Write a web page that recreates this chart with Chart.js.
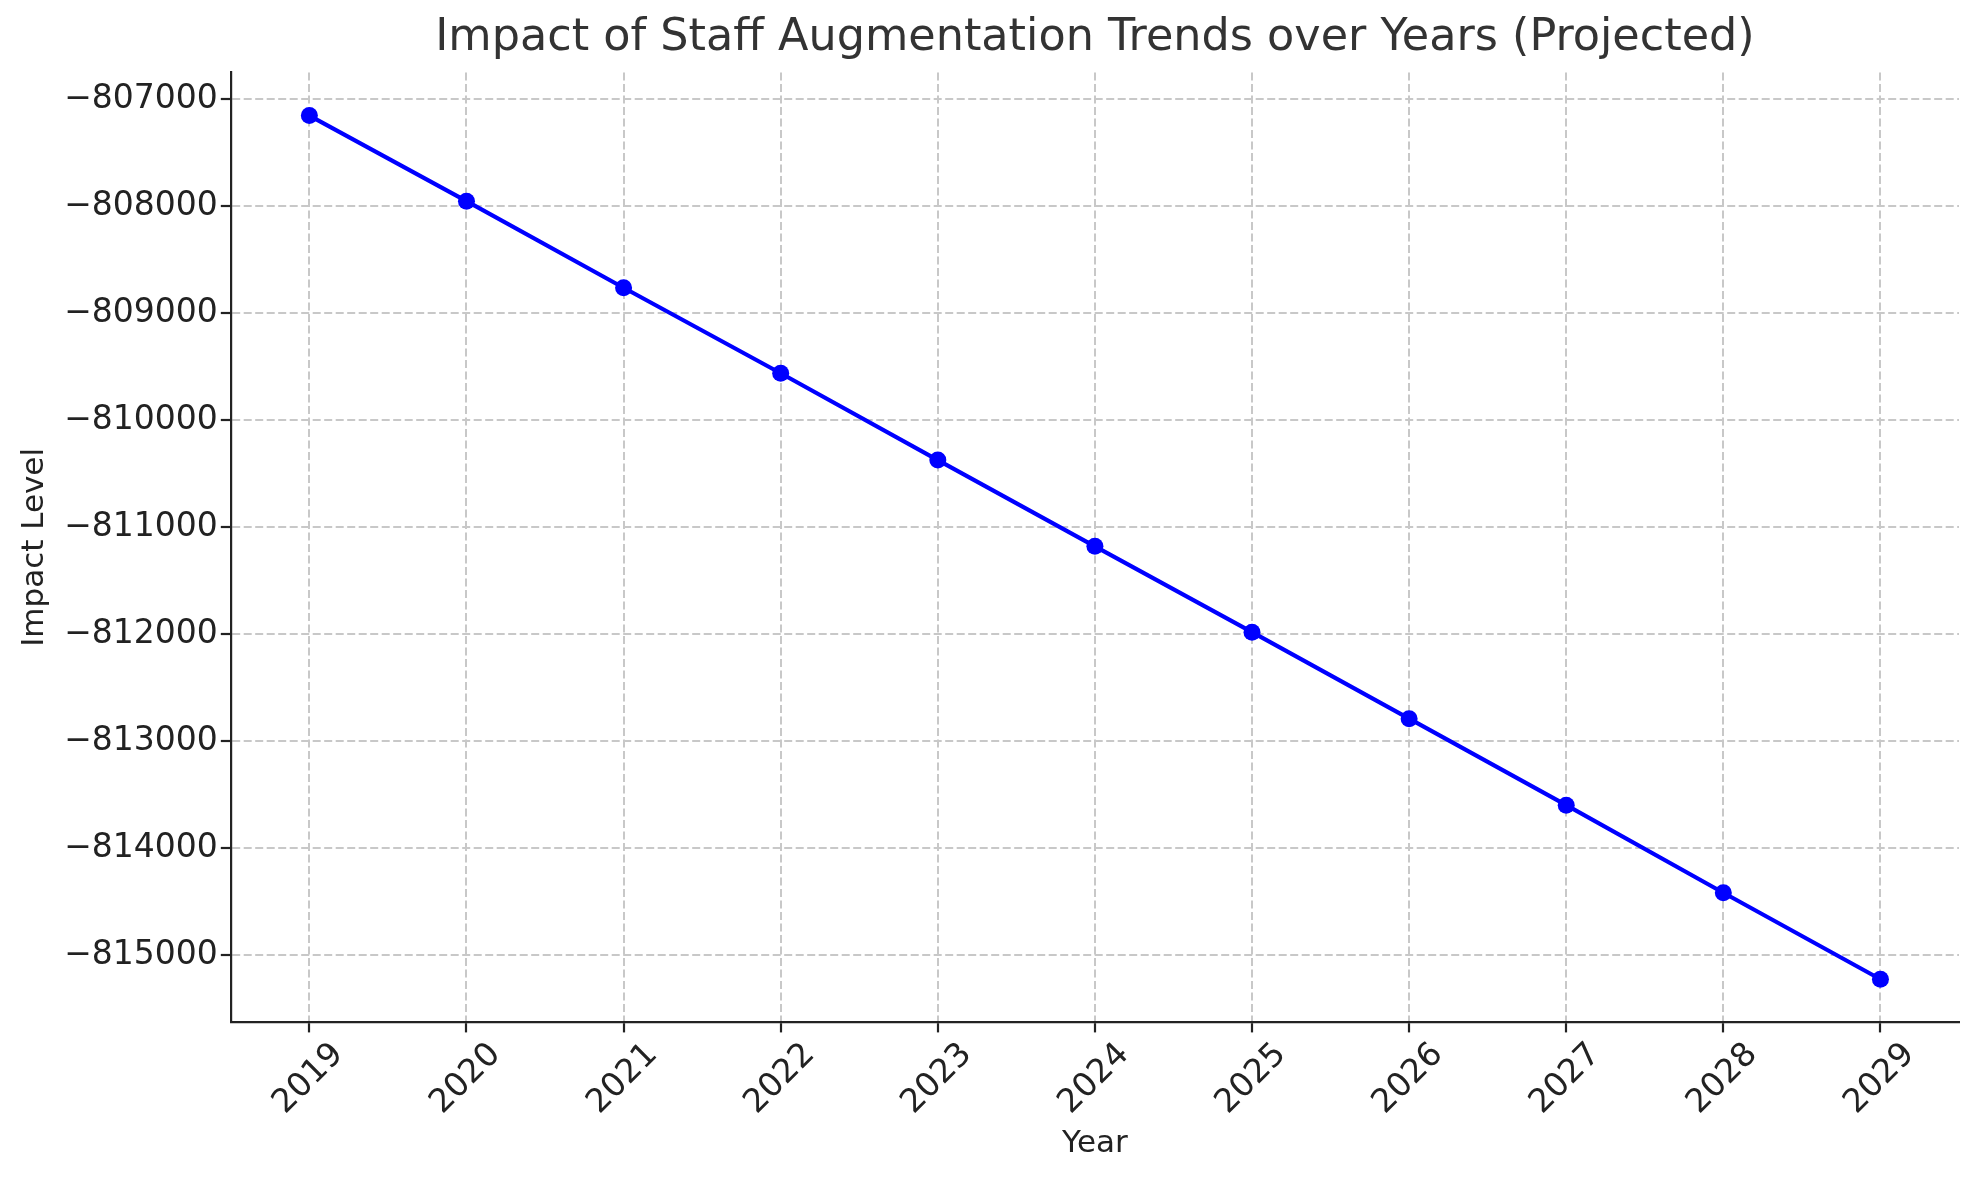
<!DOCTYPE html>
<html lang="en">

<head>
    <meta charset="UTF-8">
    <meta name="viewport" content="width=device-width, initial-scale=1.0">
    <title>Impact of Staff Augmentation Trends</title>
    <script src="https://cdn.jsdelivr.net/npm/chart.js"></script>
    <style>
        body { margin: 0; background: #fff; }
        #wrap { width: 1979px; height: 1180px; }
    </style>
</head>

<body>
    <div id="wrap"><canvas id="myChart"></canvas></div>

    <script>
        const years = ['2019', '2020', '2021', '2022', '2023', '2024', '2025', '2026', '2027', '2028', '2029'];
        const impact = [-807155, -807955, -808764, -809563, -810375, -811181, -811983, -812792, -813600, -814419, -815227];
        const yTicks = [-815000, -814000, -813000, -812000, -811000, -810000, -809000, -808000, -807000];

        // matplotlib style 5% margin around the data
        const lo = Math.min(...impact);
        const hi = Math.max(...impact);
        const pad = (hi - lo) * 0.05;

        Chart.defaults.font.family = 'DejaVu Sans';
        Chart.defaults.color = '#222';

        const ctx = document.getElementById('myChart');
        new Chart(ctx, {
            type: 'line',
            data: {
                labels: years,
                datasets: [{
                    label: 'Impact Level',
                    data: impact,
                    borderColor: '#0000ff',
                    backgroundColor: '#0000ff',
                    borderWidth: 4.2,
                    pointRadius: 8.5,
                    pointBorderWidth: 0,
                    pointBackgroundColor: '#0000ff',
                    tension: 0,
                    fill: false
                }]
            },
            options: {
                responsive: true,
                maintainAspectRatio: false,
                devicePixelRatio: 1,
                animation: false,
                layout: { padding: { left: 8, right: 20, top: 0, bottom: 5 } },
                plugins: {
                    legend: { display: false },
                    tooltip: { enabled: false },
                    title: {
                        display: true,
                        fullSize: false,
                        text: 'Impact of Staff Augmentation Trends over Years (Projected)',
                        color: '#333',
                        font: { size: 44.5, weight: 'normal' },
                        padding: { top: 12, bottom: 7 }
                    }
                },
                scales: {
                    x: {
                        offset: true,
                        title: {
                            display: true,
                            text: 'Year',
                            color: '#222',
                            font: { size: 31 },
                            padding: { top: 0, bottom: 12 }
                        },
                        ticks: {
                            minRotation: 45,
                            maxRotation: 45,
                            labelOffset: 29,
                            padding: 3,
                            color: '#222',
                            font: { size: 33 }
                        },
                        grid: {
                            color: '#c8c8c8',
                            lineWidth: 2,
                            tickColor: '#222',
                            tickWidth: 2.2,
                            tickLength: 10,
                            tickBorderDash: []
                        },
                        border: { display: true, color: '#222', width: 2.2, dash: [8, 3.5] }
                    },
                    y: {
                        min: lo - pad,
                        max: hi + pad,
                        afterBuildTicks: axis => {
                            axis.ticks = yTicks.map(v => ({ value: v }));
                        },
                        title: {
                            display: true,
                            text: 'Impact Level',
                            color: '#222',
                            font: { size: 31 },
                            padding: { top: 8, bottom: 8 }
                        },
                        ticks: {
                            padding: 3,
                            color: '#222',
                            font: { size: 33 },
                            callback: v => (v < 0 ? '\u2212' : '') + Math.abs(v)
                        },
                        grid: {
                            color: '#c8c8c8',
                            lineWidth: 2,
                            tickColor: '#222',
                            tickWidth: 2.2,
                            tickLength: 10,
                            tickBorderDash: []
                        },
                        border: { display: true, color: '#222', width: 2.2, dash: [8, 3.5] }
                    }
                }
            }
        });
    </script>
</body>

</html>
